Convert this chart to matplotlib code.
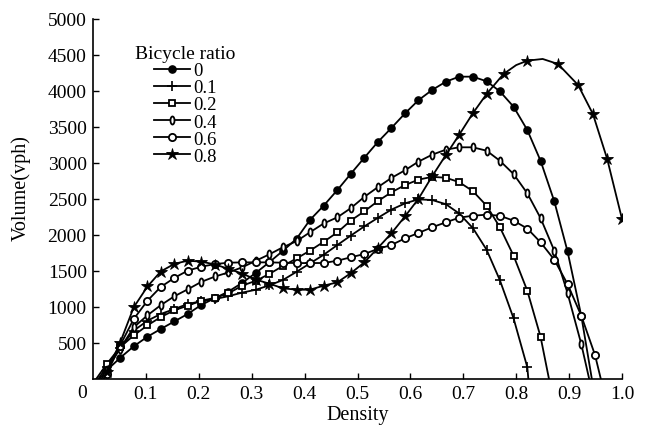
import matplotlib
matplotlib.use("Agg")
import matplotlib.pyplot as plt
from matplotlib.path import Path
from matplotlib.transforms import Affine2D

plt.rcParams['font.family'] = ['Liberation Serif', 'DejaVu Serif']

# ---- data ----
density = [0.026, 0.051, 0.077, 0.103, 0.128, 0.154, 0.179, 0.205, 0.231, 0.256,
           0.282, 0.308, 0.333, 0.359, 0.385, 0.410, 0.436, 0.462, 0.487, 0.513,
           0.538, 0.564, 0.590, 0.615, 0.641, 0.667, 0.692, 0.718, 0.744, 0.769,
           0.795, 0.821, 0.846, 0.872, 0.897, 0.923, 0.949]

ratio_labels = ['0', '0.1', '0.2', '0.4', '0.6', '0.8']

# start / end density where each curve meets the x axis
start_0, end_0 = 0.012, 0.943
start_01, end_01 = 0.010, 0.823
start_02, end_02 = 0.006, 0.862
start_04, end_04 = 0.016, 0.938
start_06, end_06 = 0.021, 0.960
start_08 = 0.020

vol_0 = [120, 292, 454, 588, 694, 801, 903, 1030, 1125, 1215, 1335, 1475, 1620, 1780,
         1950, 2208, 2407, 2625, 2847, 3074, 3288, 3486, 3690, 3871, 4014, 4129, 4199,
         4199, 4135, 3996, 3782, 3458, 3032, 2468, 1774, 879]
vol_01 = [170, 426, 671, 810, 903, 972, 1042, 1080, 1111, 1150, 1200, 1240, 1300, 1375,
          1490, 1605, 1725, 1861, 1990, 2120, 2236, 2352, 2440, 2495, 2486, 2428, 2300,
          2097, 1796, 1375, 843, 163]
vol_02 = [208, 440, 605, 745, 860, 955, 1018, 1088, 1127, 1190, 1296, 1365, 1458, 1570,
          1675, 1782, 1905, 2037, 2199, 2329, 2468, 2593, 2694, 2768, 2808, 2795, 2735,
          2610, 2407, 2110, 1713, 1226, 588]
vol_04 = [130, 420, 718, 885, 1025, 1150, 1245, 1350, 1424, 1480, 1551, 1643, 1730, 1830,
          1915, 2037, 2160, 2246, 2371, 2530, 2662, 2792, 2900, 3018, 3115, 3185, 3218,
          3218, 3171, 3032, 2847, 2579, 2236, 1782, 1194, 486]
vol_06 = [70, 463, 833, 1088, 1278, 1405, 1505, 1560, 1597, 1615, 1620, 1620, 1620, 1615,
          1610, 1610, 1611, 1643, 1690, 1736, 1806, 1861, 1954, 2028, 2107, 2176, 2240,
          2268, 2282, 2268, 2199, 2090, 1899, 1657, 1319, 879, 333]
vol_08_left = [100, 500, 996, 1285, 1493, 1600, 1643, 1630, 1590, 1530, 1465, 1380, 1325,
               1260, 1240, 1240, 1296, 1343, 1468, 1620, 1815, 2023, 2260, 2500, 2815, 3110,
               3389, 3690, 3958]
dens_08_right = [0.776, 0.800, 0.821, 0.850, 0.879, 0.917, 0.945, 0.972, 1.000]
vol_08_right = [4236, 4360, 4421, 4445, 4375, 4083, 3681, 3056, 2222]
marked_08_right = [True, False, True, False, True, True, True, True, True]

# ---- build series ----
def curve(start, vols, end):
    xs = [start] + density[:len(vols)] + ([end] if end is not None else [])
    ys = [0] + vols + ([0] if end is not None else [])
    marks = list(range(1, len(vols) + 1))
    return xs, ys, marks

s0 = curve(start_0, vol_0, end_0)
s01 = curve(start_01, vol_01, end_01)
s02 = curve(start_02, vol_02, end_02)
s04 = curve(start_04, vol_04, end_04)
s06 = curve(start_06, vol_06, end_06)
x08 = [start_08] + density[:len(vol_08_left)] + dens_08_right
y08 = [0] + vol_08_left + vol_08_right
m08 = list(range(1, len(vol_08_left) + 1)) + \
      [1 + len(vol_08_left) + i for i, m in enumerate(marked_08_right) if m]
s08 = (x08, y08, m08)

oval = Path.unit_circle().transformed(Affine2D().scale(0.5, 1.0))

styles = [
    dict(marker='o', ms=5.2, mfc='black', mec='black', mew=1.0),
    dict(marker='+', ms=6.5, mfc='black', mec='black', mew=1.2),
    dict(marker='s', ms=4.8, mfc='white', mec='black', mew=1.3),
    dict(marker=oval, ms=5.8, mfc='white', mec='black', mew=1.3),
    dict(marker='o', ms=5.2, mfc='white', mec='black', mew=1.3),
    dict(marker='*', ms=9.0, mfc='black', mec='black', mew=0.6),
]

fig = plt.figure(figsize=(6.46, 4.31), dpi=100)
ax = fig.add_axes([93 / 646, 51 / 431, 529 / 646, 360 / 431])

for (xs, ys, marks), lab, st in zip([s0, s01, s02, s04, s06, s08], ratio_labels, styles):
    ax.plot(xs, ys, color='black', lw=1.3, markevery=marks, label=lab, **st)

ax.set_xlim(0, 1.0)
ax.set_ylim(0, 5000)
ax.set_xticks([0.1, 0.2, 0.3, 0.4, 0.5, 0.6, 0.7, 0.8, 0.9, 1.0])
ax.set_xticklabels(['0.1', '0.2', '0.3', '0.4', '0.5', '0.6', '0.7', '0.8', '0.9', '1.0'])
ax.set_yticks([500, 1000, 1500, 2000, 2500, 3000, 3500, 4000, 4500, 5000])
ax.tick_params(direction='in', length=4.5, width=1.0, labelsize=14)
ax.tick_params(axis='x', pad=4.0)
ax.tick_params(axis='y', pad=4.5)
for sp in ['top', 'right']:
    ax.spines[sp].set_visible(False)
for sp in ['left', 'bottom']:
    ax.spines[sp].set_linewidth(1.2)

ax.text(-0.021, -0.015, '0', transform=ax.transAxes, ha='center', va='top', fontsize=14)

ax.set_xlabel('Density', fontsize=14.5)
ax.xaxis.set_label_coords(0.5, -0.072)
ax.set_ylabel('Volume(vph)', fontsize=14.5)
ax.yaxis.set_label_coords(-0.118, 0.533)

leg = ax.legend(title='Bicycle ratio', loc='upper left', frameon=False,
                bbox_to_anchor=(122 / 646, 1 - 33 / 431), bbox_transform=fig.transFigure,
                fontsize=13.5, title_fontsize=14, handlelength=1.9,
                handletextpad=0.2, labelspacing=0.0, borderpad=0.2)

fig.savefig('out.png', dpi=100)
